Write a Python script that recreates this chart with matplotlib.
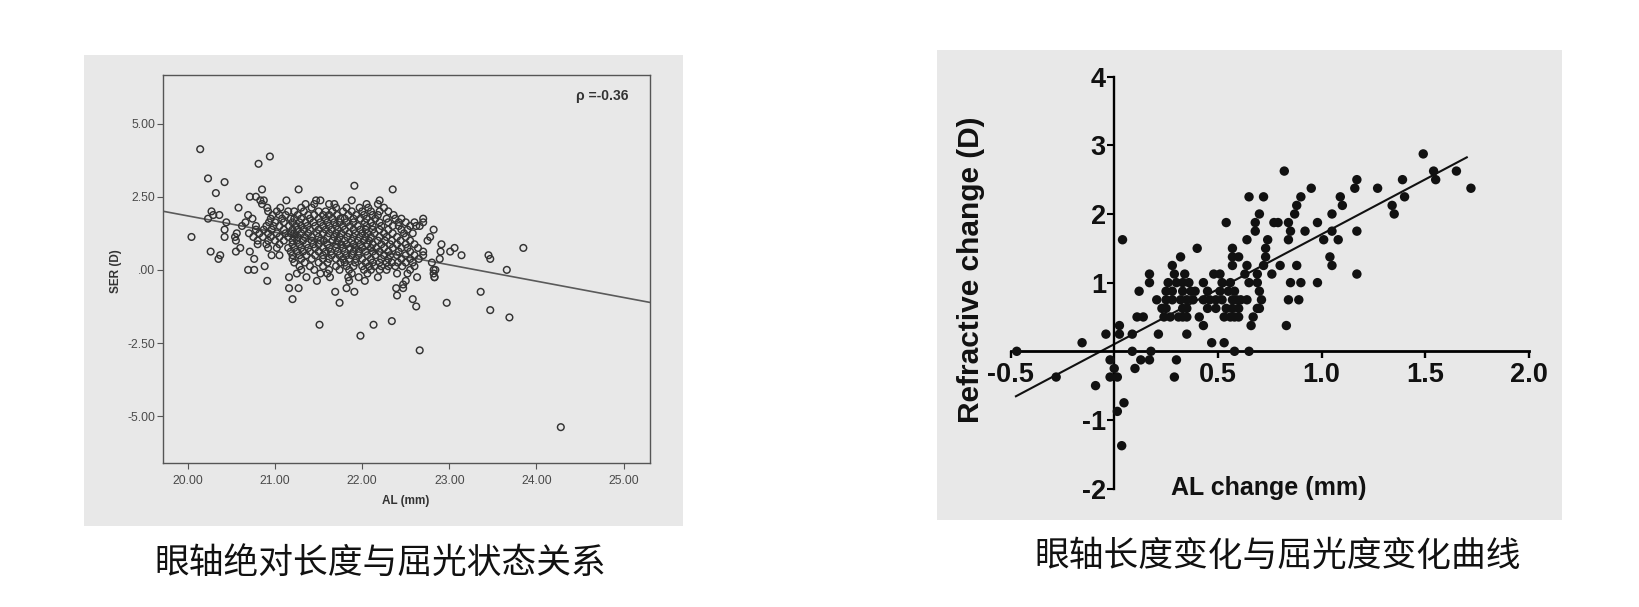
import matplotlib
matplotlib.use('Agg')
import matplotlib.pyplot as plt
from matplotlib.patches import Rectangle
import numpy as np

BG = '#e8e8e8'
W, H = 1640, 607

# ---------------- left panel: AL vs SER (open circles) ----------------
# SER is quantised in 0.125 D steps, so the dense cloud is read row by row
left_levels = [2.375, 2.25, 2.125, 2.0, 1.875, 1.75, 1.625, 1.5, 1.375, 1.25, 1.125,
               1.0, 0.875, 0.75, 0.625, 0.5, 0.375, 0.25, 0.125, 0.0, -0.125, -0.25, -0.375]
left_rows = [
    [20.87, 21.13, 21.47, 21.52, 21.88, 22.2],
    [20.85, 21.35, 21.45, 21.62, 21.68, 22.05, 22.18],
    [20.58, 20.91, 21.06, 21.3, 21.42, 21.7, 21.82, 21.97, 22.07, 22.25],
    [20.27, 20.92, 21.02, 21.15, 21.22, 21.33, 21.5, 21.58, 21.66, 21.78, 21.88, 22.0, 22.1, 22.2, 22.3],
    [20.29, 20.36, 20.69, 20.97, 21.05, 21.12, 21.26, 21.38, 21.45, 21.55, 21.62, 21.71, 21.84,
     21.93, 22.02, 22.12, 22.18, 22.36],
    [20.23, 20.74, 20.95, 21.08, 21.18, 21.22, 21.3, 21.4, 21.5, 21.58, 21.66, 21.75, 21.8, 21.9,
     21.98, 22.05, 22.15, 22.28, 22.38, 22.45, 22.7],
    [20.44, 20.66, 20.93, 21.0, 21.1, 21.2, 21.28, 21.35, 21.44, 21.52, 21.6, 21.68, 21.74, 21.82,
     21.9, 22.03, 22.1, 22.2, 22.3, 22.42, 22.5, 22.6, 22.7],
    [20.62, 20.78, 20.9, 20.98, 21.05, 21.16, 21.24, 21.3, 21.37, 21.46, 21.55, 21.62, 21.7, 21.78,
     21.86, 21.95, 22.05, 22.12, 22.22, 22.35, 22.42, 22.55, 22.62, 22.66],
    [20.42, 20.78, 20.87, 20.96, 21.1, 21.2, 21.26, 21.33, 21.4, 21.5, 21.58, 21.65, 21.72, 21.8,
     21.9, 21.98, 22.04, 22.12, 22.2, 22.3, 22.45, 22.52, 22.82],
    [20.56, 20.7, 20.82, 20.92, 21.02, 21.12, 21.18, 21.22, 21.3, 21.38, 21.48, 21.55, 21.62, 21.7,
     21.76, 21.85, 21.92, 22.0, 22.06, 22.14, 22.25, 22.35, 22.48, 22.58],
    [20.04, 20.42, 20.54, 20.75, 20.86, 20.95, 21.05, 21.15, 21.22, 21.26, 21.34, 21.42, 21.5, 21.6,
     21.68, 21.74, 21.83, 21.9, 21.97, 22.04, 22.1, 22.2, 22.28, 22.4, 22.5, 22.78],
    [20.55, 20.8, 20.92, 21.0, 21.1, 21.2, 21.25, 21.32, 21.42, 21.52, 21.56, 21.66, 21.72, 21.8,
     21.88, 21.95, 22.02, 22.08, 22.18, 22.26, 22.34, 22.44, 22.55, 22.75],
    [20.8, 20.9, 21.05, 21.2, 21.28, 21.36, 21.44, 21.5, 21.6, 21.7, 21.76, 21.82, 21.9, 21.98,
     22.06, 22.12, 22.22, 22.32, 22.4, 22.5, 22.6, 22.91],
    [20.6, 20.92, 21.02, 21.15, 21.22, 21.3, 21.38, 21.46, 21.55, 21.62, 21.7, 21.78, 21.86, 21.92,
     22.0, 22.1, 22.16, 22.25, 22.35, 22.45, 22.52, 22.64, 23.06],
    [20.26, 20.55, 20.71, 21.18, 21.25, 21.32, 21.4, 21.5, 21.58, 21.64, 21.72, 21.8, 21.9, 21.96,
     22.04, 22.12, 22.2, 22.3, 22.42, 22.55, 22.7, 22.9, 23.01],
    [20.37, 20.96, 21.05, 21.2, 21.28, 21.36, 21.46, 21.55, 21.65, 21.74, 21.82, 21.88, 21.96, 22.06,
     22.15, 22.25, 22.32, 22.4, 22.5, 22.6, 22.7, 23.14],
    [20.35, 20.76, 21.2, 21.3, 21.42, 21.55, 21.62, 21.7, 21.78, 21.85, 21.93, 22.0, 22.1, 22.22,
     22.3, 22.45, 22.55, 22.65, 22.89],
    [21.22, 21.34, 21.5, 21.6, 21.75, 21.8, 21.92, 22.04, 22.12, 22.2, 22.28, 22.34, 22.41, 22.5,
     22.58, 22.8],
    [20.88, 21.28, 21.4, 21.55, 21.7, 21.82, 21.9, 22.0, 22.08, 22.14, 22.22, 22.3, 22.38, 22.46, 22.6],
    [20.69, 20.76, 21.3, 21.45, 21.62, 21.74, 21.85, 22.02, 22.1, 22.2, 22.28, 22.55, 22.82, 22.84],
    [21.25, 21.52, 21.6, 21.88, 22.06, 22.4, 22.52, 22.82],
    [21.16, 21.36, 21.63, 21.84, 21.96, 22.18, 22.63, 22.83],
    [20.91, 21.48, 21.85, 22.03, 22.5],
]
left_extra_al = [20.14, 20.23, 20.42, 20.81, 20.94, 20.85, 20.32, 21.27, 21.91, 22.35, 20.71, 20.78,
                 20.83, 21.16, 21.27, 21.2, 21.51, 21.69, 21.74, 21.82, 21.91, 21.98, 22.13, 22.34,
                 22.4, 22.39, 22.47, 22.47, 22.58, 22.62, 22.66, 22.83, 22.97, 23.36, 23.45, 23.47,
                 23.47, 23.66, 23.69, 23.85, 24.28]
left_extra_ser = [4.125, 3.125, 3.0, 3.625, 3.875, 2.75, 2.625, 2.75, 2.875, 2.75, 2.5, 2.5,
                  2.375, -0.625, -0.625, -1.0, -1.875, -0.75, -1.125, -0.625, -0.75, -2.25, -1.875, -1.75,
                  -0.875, -0.625, -0.5, -0.625, -1.0, -1.25, -2.75, -0.25, -1.125, -0.75, 0.5, 0.375,
                  -1.375, 0.0, -1.625, 0.75, -5.375]
left_fit_x = [19.72, 25.30]
left_fit_y = [2.00, -1.11]
left_xticks = [20, 21, 22, 23, 24, 25]
left_xticklabels = ['20.00', '21.00', '22.00', '23.00', '24.00', '25.00']
left_yticks = [5, 2.5, 0, -2.5, -5]
left_yticklabels = ['5.00', '2.50', '.00', '-2.50', '-5.00']

# ---------------- right panel: AL change vs refractive change ----------------
right_levels = [0.5, 0.625, 0.75, 0.875, 1.0, 1.125, 1.25, 1.375, 1.5, 1.625, 1.75, 1.875,
                2.0, 2.125, 2.25, 2.375, 2.5, 2.625, 2.875]
right_rows = [
    [0.11, 0.14, 0.24, 0.27, 0.31, 0.33, 0.35, 0.41, 0.53, 0.56, 0.58, 0.60, 0.67],
    [0.23, 0.25, 0.33, 0.35, 0.45, 0.49, 0.54, 0.57, 0.60, 0.69, 0.70],
    [0.205, 0.25, 0.28, 0.32, 0.35, 0.38, 0.43, 0.46, 0.49, 0.52, 0.57, 0.59, 0.61, 0.64, 0.71, 0.84, 0.89],
    [0.12, 0.25, 0.28, 0.33, 0.37, 0.39, 0.45, 0.51, 0.55, 0.58, 0.70],
    [0.17, 0.26, 0.30, 0.33, 0.36, 0.43, 0.52, 0.56, 0.65, 0.69, 0.85, 0.90, 0.98],
    [0.17, 0.29, 0.34, 0.48, 0.51, 0.63, 0.69, 0.76, 1.17],
    [0.28, 0.57, 0.64, 0.72, 0.80, 0.88, 1.05],
    [0.32, 0.57, 0.60, 0.73, 1.04],
    [0.40, 0.57, 0.73],
    [0.04, 0.64, 0.74, 0.84, 1.01, 1.08],
    [0.68, 0.85, 0.92, 1.05, 1.17],
    [0.54, 0.68, 0.77, 0.79, 0.84, 0.98],
    [0.70, 0.87, 1.05, 1.35],
    [0.88, 1.10, 1.34],
    [0.65, 0.72, 0.90, 1.09, 1.40],
    [0.95, 1.16, 1.27, 1.72],
    [1.17, 1.39, 1.55],
    [0.82, 1.54, 1.65],
    [1.49],
]
right_low_x = [-0.47, -0.28, -0.155, -0.09, -0.04, -0.02, 0.0, -0.02, 0.015, 0.025, 0.025, 0.015,
               0.047, 0.036, 0.087, 0.087, 0.10, 0.128, 0.17, 0.177, 0.213, 0.29, 0.30, 0.35,
               0.43, 0.47, 0.53, 0.58, 0.65, 0.66, 0.83]
right_low_y = [0.0, -0.375, 0.125, -0.5, 0.25, -0.125, -0.25, -0.375, -0.375, 0.375, 0.25, -0.875,
               -0.75, -1.375, 0.25, 0.0, -0.25, -0.125, -0.125, 0.0, 0.25, -0.375, -0.125, 0.25,
               0.375, 0.125, 0.125, 0.0, 0.0, 0.375, 0.375]
right_fit_x = [-0.474, 1.70]
right_fit_y = [-0.655, 2.825]
right_xticks = [-0.5, 0.5, 1.0, 1.5, 2.0]
right_xticklabels = ['-0.5', '0.5', '1.0', '1.5', '2.0']
right_yticks = [-2, -1, 1, 2, 3, 4]
right_yticklabels = ['-2', '-1', '1', '2', '3', '4']

captions = ['眼轴绝对长度与屈光状态关系', '眼轴长度变化与屈光度变化曲线']

# flatten the row readings
left_al = [a for lv, row in zip(left_levels, left_rows) for a in row] + left_extra_al
left_ser = [lv for lv, row in zip(left_levels, left_rows) for a in row] + left_extra_ser
right_x = [a for lv, row in zip(right_levels, right_rows) for a in row] + right_low_x
right_y = [lv for lv, row in zip(right_levels, right_rows) for a in row] + right_low_y


def fx(px):
    return px / W


def fy(py):
    return 1 - py / H


fig = plt.figure(figsize=(W / 100, H / 100), dpi=100)

# gray panel backgrounds
fig.add_artist(Rectangle((fx(84), fy(526)), (683 - 84) / W, (526 - 55) / H,
                         transform=fig.transFigure, facecolor=BG, edgecolor='none', zorder=0))
fig.add_artist(Rectangle((fx(937), fy(520)), (1562 - 937) / W, (520 - 50) / H,
                         transform=fig.transFigure, facecolor=BG, edgecolor='none', zorder=0))

# left axes
ax1 = fig.add_axes([fx(163), fy(463), (650 - 163) / W, (463 - 75) / H])
ax1.set_facecolor(BG)
ax1.scatter(left_al, left_ser, s=23, facecolors='none', edgecolors='#333333', linewidths=1.05, zorder=3)
ax1.plot(left_fit_x, left_fit_y, color='#5a5a5a', lw=1.2, zorder=2)
ax1.set_xlim(19.713, 25.304)
ax1.set_ylim(-6.60, 6.66)
ax1.set_xticks(left_xticks)
ax1.set_xticklabels(left_xticklabels)
ax1.set_yticks(left_yticks)
ax1.set_yticklabels(left_yticklabels)
for sp in ax1.spines.values():
    sp.set_color('#555555')
    sp.set_linewidth(1.0)
ax1.tick_params(direction='out', length=4, width=0.8, color='#555555',
                labelsize=8.7, labelcolor='#4a4a4a')
ax1.tick_params(axis='x', pad=4.5)
ax1.tick_params(axis='y', pad=1.5)
for lab in ax1.get_xticklabels() + ax1.get_yticklabels():
    lab.set_family('Liberation Sans')
ax1.text(0.901, 0.946, 'ρ =-0.36', transform=ax1.transAxes, ha='center', va='center',
         fontsize=10, fontweight='bold', color='#333333', family='Liberation Sans')
fig.text(fx(406), fy(501), 'AL (mm)', ha='center', va='center', fontsize=8.5,
         fontweight='bold', color='#333333', family='Liberation Sans')
fig.text(fx(116), fy(271), 'SER (D)', ha='center', va='center', rotation=90, fontsize=8.5,
         fontweight='bold', color='#333333', family='Liberation Sans')

# right axes, spines crossing at the origin
ax2 = fig.add_axes([fx(990), fy(495), (1540 - 990) / W, (495 - 65) / H])
ax2.patch.set_visible(False)
ax2.scatter(right_x, right_y, s=46, color='#111111', edgecolors='none', zorder=3)
ax2.plot(right_fit_x, right_fit_y, color='#111111', lw=1.5, zorder=2)
ax2.set_xlim(-0.599, 2.053)
ax2.set_ylim(-2.093, 4.170)
ax2.spines['top'].set_visible(False)
ax2.spines['right'].set_visible(False)
ax2.spines['left'].set_position(('data', 0))
ax2.spines['bottom'].set_position(('data', 0))
ax2.spines['left'].set_bounds(-2, 4)
ax2.spines['bottom'].set_bounds(-0.5, 2.0)
ax2.spines['left'].set_linewidth(1.7)
ax2.spines['bottom'].set_linewidth(2.0)
ax2.set_xticks(right_xticks)
ax2.set_xticklabels(right_xticklabels)
ax2.set_yticks(right_yticks)
ax2.set_yticklabels(right_yticklabels)
ax2.tick_params(axis='x', direction='out', length=5, width=1.7, pad=3)
ax2.tick_params(axis='y', direction='out', length=5, width=1.5, pad=1)
for lab in ax2.get_xticklabels() + ax2.get_yticklabels():
    lab.set_fontsize(19.5)
    lab.set_fontweight('bold')
    lab.set_family('Liberation Sans')
    lab.set_color('#111111')
fig.text(fx(971), fy(269.5), 'Refractive change (D)', ha='center', va='center', rotation=90,
         fontsize=21.5, fontweight='bold', color='#111111', family='Liberation Sans')
fig.text(fx(1269), fy(488.5), 'AL change (mm)', ha='center', va='center',
         fontsize=18, fontweight='bold', color='#111111', family='Liberation Sans')

# captions
fig.text(fx(380), fy(563), captions[0], ha='center', va='center', fontsize=25,
         family=['Noto Sans CJK SC', 'DejaVu Sans'], color='#111111')
fig.text(fx(1278), fy(556.5), captions[1], ha='center', va='center', fontsize=25,
         family=['Noto Sans CJK SC', 'DejaVu Sans'], color='#111111')

fig.savefig('out.png', dpi=100, facecolor='white')
